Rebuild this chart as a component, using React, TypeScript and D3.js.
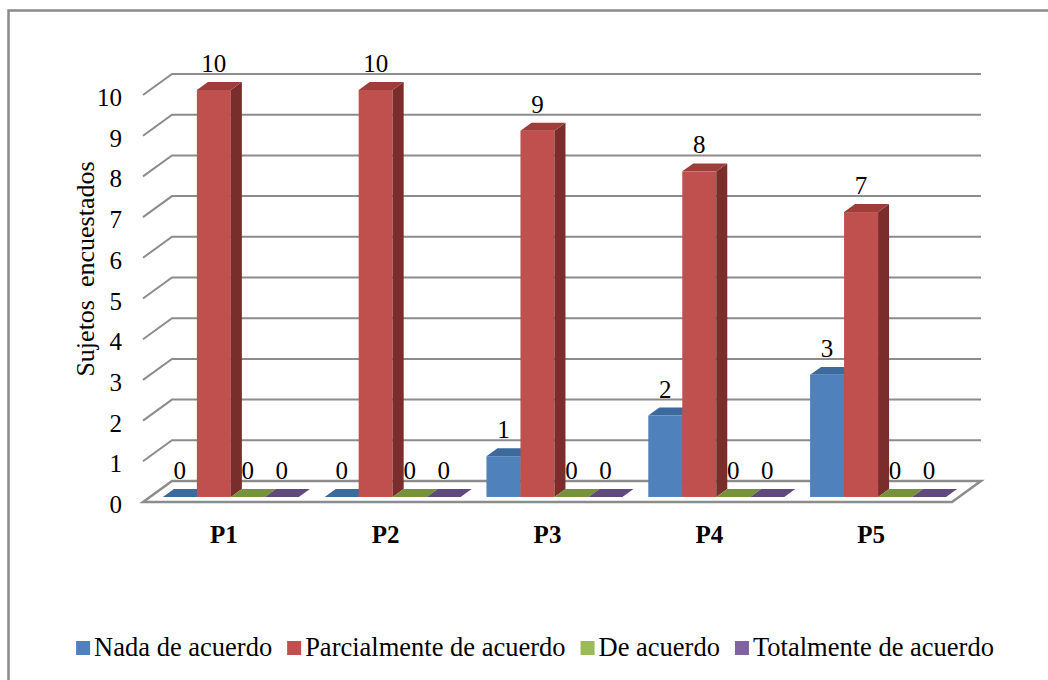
import React from "react";
import * as d3 from "d3";

const categories = ["P1", "P2", "P3", "P4", "P5"];
const seriesNames = ["Nada de acuerdo", "Parcialmente de acuerdo", "De acuerdo", "Totalmente de acuerdo"];
const nada = [0, 0, 1, 2, 3];
const parcial = [10, 10, 9, 8, 7];
const deAcuerdo = [0, 0, 0, 0, 0];
const totalmente = [0, 0, 0, 0, 0];
const yTicks = [0, 1, 2, 3, 4, 5, 6, 7, 8, 9, 10];

const series = [nada, parcial, deAcuerdo, totalmente];
const front = ["#4F81BD", "#C0504D", "#9BBB59", "#8064A2"];
const top = ["#3D6A9C", "#9E3D3A", "#76923C", "#5F4A7B"];
const side = ["#355C89", "#7A2E2C", "#65803A", "#54406E"];

const FONT = "Liberation Serif";
const LEGEND_SIZE = 26.5;

function textWidth(s: string, size: number) {
  const ctx = document.createElement("canvas").getContext("2d");
  if (!ctx) return s.length * size * 0.45;
  ctx.font = `${size}px "${FONT}"`;
  return ctx.measureText(s).width;
}

export default function App() {
  const DX = 29, DY = 21;
  const x = d3.scaleBand().domain(categories).range([172, 981]);
  const inner = d3.scaleBand().domain(seriesNames).range([0, x.bandwidth()]).paddingOuter(0.38);
  const y = d3.scaleLinear().domain([0, 10]).range([481, 74]);
  const proj = (px: number, v: number, d: number) => [px - DX * d, y(v) + DY * d];
  const pts = (arr: number[][]) => arr.map((p) => p.join(",")).join(" ");
  const df = 0.76, db = 0.38;

  const txt = (size: number, extra: React.CSSProperties = {}) => ({
    fontFamily: FONT, fontSize: size, fill: "#000", ...extra,
  });

  // legend layout
  const items: { name: string; x: number; j: number }[] = [];
  let cx = 0;
  seriesNames.forEach((name, j) => {
    items.push({ name, x: cx, j });
    cx += 18 + textWidth(name, LEGEND_SIZE) + 15;
  });
  const legX = 535 - (cx - 15) / 2;

  return (
    <svg width={1048} height={680}
      style={{ position: "absolute", left: 0, top: 0, background: "#fff" }}>
      <rect x={8.5} y={10.5} width={1100} height={700} fill="none" stroke="#8a8a8a" strokeWidth={2.5} />

      <polygon points={pts([proj(172, 0, 0), proj(981, 0, 0), proj(981, 0, 1), proj(172, 0, 1)])}
        fill="#fff" stroke="#8c8c8c" strokeWidth={2.5} />

      {yTicks.filter((t) => t > 0).map((t) => (
        <path key={t} d={`M${proj(172, t, 1)}L${proj(172, t, 0)}L${proj(981, t, 0)}`}
          fill="none" stroke="#8c8c8c" strokeWidth={2} />
      ))}

      {yTicks.map((t) => (
        <text key={t} x={122} y={proj(172, t, 1)[1] + 11} textAnchor="end" style={txt(25)}>{t}</text>
      ))}

      <text transform="translate(94,269) rotate(-90)" textAnchor="middle"
        style={txt(26, { whiteSpace: "pre" })}>{"Sujetos  encuestados"}</text>

      {categories.map((cat, i) => (
        <g key={cat}>
          {series.map((s, j) => {
            const v = s[i];
            const x0 = x(cat)! + inner(seriesNames[j])!;
            const x1 = x0 + inner.bandwidth();
            const f0 = proj(x0, v, df), f1 = proj(x1, 0, df);
            const lp = proj((x0 + x1) / 2, v, df);
            return (
              <g key={j}>
                {v > 0 && (
                  <>
                    <rect x={f0[0]} y={f0[1]} width={f1[0] - f0[0]} height={f1[1] - f0[1]} fill={front[j]} />
                    <polygon fill={side[j]}
                      points={pts([proj(x1, v, df), proj(x1, 0, df), proj(x1, 0, db), proj(x1, v, db)])} />
                  </>
                )}
                <polygon fill={top[j]}
                  points={pts([proj(x0, v, df), proj(x1, v, df), proj(x1, v, db), proj(x0, v, db)])} />
                <text x={lp[0]} y={lp[1] - 18} textAnchor="middle" style={txt(25)}>{v}</text>
              </g>
            );
          })}
        </g>
      ))}

      {categories.map((cat) => (
        <text key={cat} x={x(cat)! + x.bandwidth() / 2 - DX} y={543} textAnchor="middle"
          style={txt(25, { fontWeight: "bold" })}>{cat}</text>
      ))}

      <g transform={`translate(${legX},0)`}>
        {items.map((it) => (
          <g key={it.name}>
            <rect x={it.x} y={641} width={14} height={14} fill={front[it.j]} />
            <text x={it.x + 18} y={656} style={txt(LEGEND_SIZE)}>{it.name}</text>
          </g>
        ))}
      </g>
    </svg>
  );
}
